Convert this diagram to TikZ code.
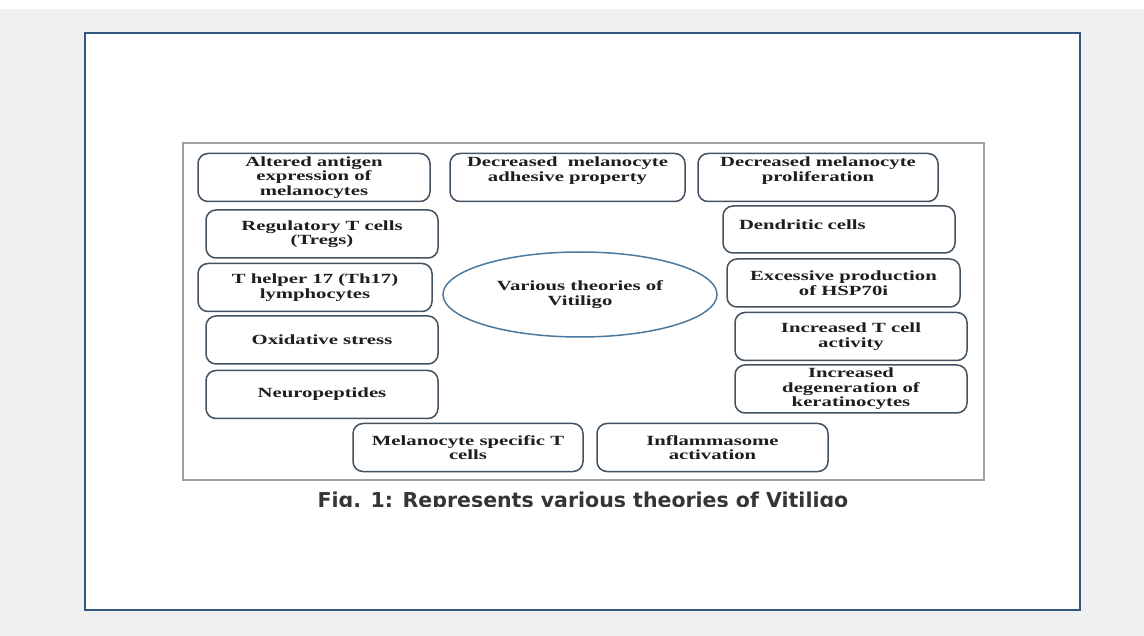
\documentclass[tikz,border=0pt]{standalone}
\usepackage{fontspec}
\setmainfont{Liberation Serif}
\newfontfamily\boxfont{Liberation Serif}[FakeStretch=1.48]
\newfontfamily\capfont{DejaVu Sans}
\usetikzlibrary{shapes.geometric, positioning}
\definecolor{pagegray}{RGB}{237, 239, 241}
\definecolor{frameblue}{RGB}{52, 88, 128}
\definecolor{boxline}{RGB}{66, 82, 96}
\definecolor{ovalblue}{RGB}{74, 122, 160}
\definecolor{figgray}{RGB}{160, 160, 160}
\definecolor{inktext}{RGB}{30, 30, 30}
\tikzset{
  theory/.style={draw=boxline, line width=1.5pt, rounded corners=10pt, fill=white,
    minimum width=232pt, minimum height=48pt, align=center, inner sep=2pt,
    text=inktext, font=\boxfont\bfseries\fontsize{14}{14.5}\selectfont},
  hub/.style={draw=ovalblue, line width=1.5pt, ellipse, inner sep=0pt, align=center,
    text=inktext, font=\boxfont\bfseries\fontsize{14}{14.5}\selectfont},
}

\begin{document}
\begin{tikzpicture}[x=1pt, y=-1pt]
  \useasboundingbox (0,0) rectangle (1144,636);
  \fill[pagegray] (0,9) rectangle (1144,636);
  \draw[frameblue, line width=2.5pt, fill=white] (85,33) rectangle (1080,610);
  \draw[figgray, line width=1.6pt] (183,143) rectangle (984,480);

  % centre
  \node[hub, minimum width=274pt, minimum height=85pt] (vit) at (580,294.5) {Various theories of\\Vitiligo};

  % top row
  \node[theory] (antigen) at (314,177.5) {Altered antigen\\expression of\\melanocytes};
  \node[theory, minimum width=235pt, text depth=17pt] (adhesion) at (567.5,177.5) {Decreased~ melanocyte\\adhesive property};
  \node[theory, minimum width=240pt, text depth=17pt] (prolif) at (818,177.5) {Decreased melanocyte\\proliferation};

  % left column
  \node[theory] (tregs) at (322,234) {Regulatory T cells\\(Tregs)};
  \node[theory, minimum width=234pt] (th17) at (315,287.5) {T helper 17 (Th17)\\lymphocytes};
  \node[theory] (oxid) at (322,340) {Oxidative stress};
  \node[theory, below=5pt of oxid] (neuro) {Neuropeptides};

  % right column
  \node[theory, minimum height=47pt, text width=200pt, align=left, text depth=10pt] (dendritic) at (839,229.5) {Dendritic cells};
  \node[theory, minimum width=233pt] (hsp) at (843.5,283) {Excessive production\\of HSP70i};
  \node[theory] (tcell) at (851,336.5) {Increased T cell\\activity};
  \node[theory] (kerat) at (851,389) {Increased\\degeneration of\\keratinocytes};

  % bottom row
  \node[theory, minimum width=230pt] (mstc) at (468,447.5) {Melanocyte specific T\\cells};
  \node[theory, minimum width=231pt] (inflam) at (712.5,447.5) {Inflammasome\\activation};

  % caption, cut off at the edge of the figure
  \begin{scope}
    \clip (183,481) rectangle (990,506);
    \node[anchor=base, text=inktext!90, font=\capfont\bfseries\fontsize{20.5}{22}\selectfont] (caption) at (583,507) {Fig. 1: Represents various theories of Vitiligo};
  \end{scope}
\end{tikzpicture}
\end{document}
